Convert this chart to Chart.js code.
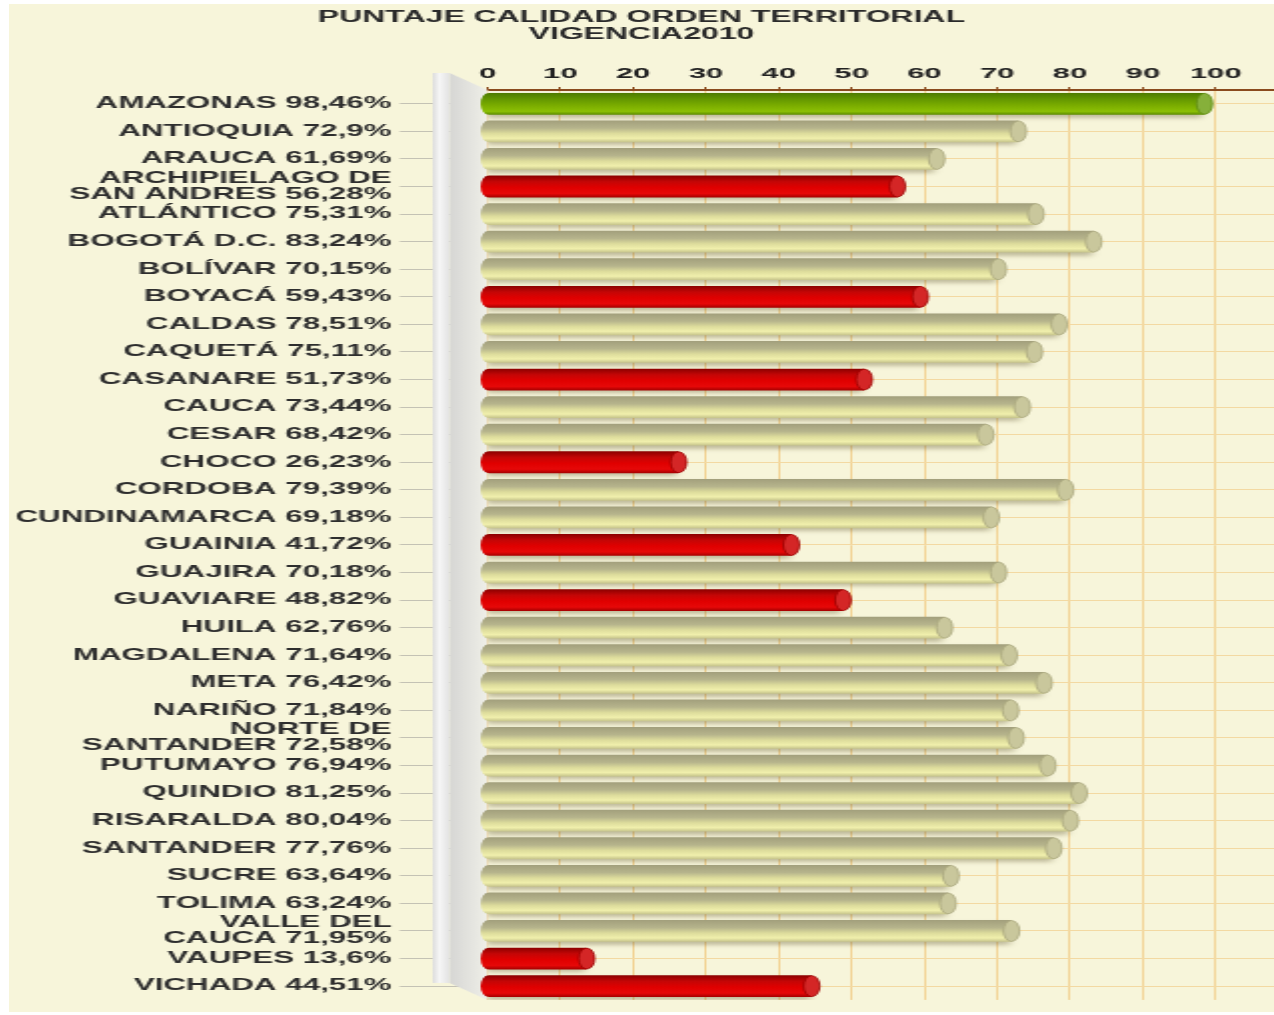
<!DOCTYPE html>
<html>
<head>
<meta charset="utf-8">
<script src="https://cdn.jsdelivr.net/npm/chart.js@4.4.1/dist/chart.umd.min.js"></script>
<style>
  html, body { margin: 0; padding: 0; background: #ffffff; }
</style>
</head>
<body>
<canvas id="c" width="633" height="1008" style="position:absolute; left:9px; top:4px; width:1265px; height:1008px; background:#f7f5da;"></canvas>
<script>
// ---- data ----
const titleLines = ['PUNTAJE CALIDAD ORDEN TERRITORIAL', 'VIGENCIA2010'];
const departments = [
  ['AMAZONAS'], ['ANTIOQUIA'], ['ARAUCA'], ['ARCHIPIELAGO DE', 'SAN ANDRES'], ['ATLÁNTICO'],
  ['BOGOTÁ D.C.'], ['BOLÍVAR'], ['BOYACÁ'], ['CALDAS'], ['CAQUETÁ'], ['CASANARE'], ['CAUCA'],
  ['CESAR'], ['CHOCO'], ['CORDOBA'], ['CUNDINAMARCA'], ['GUAINIA'], ['GUAJIRA'], ['GUAVIARE'],
  ['HUILA'], ['MAGDALENA'], ['META'], ['NARIÑO'], ['NORTE DE', 'SANTANDER'], ['PUTUMAYO'],
  ['QUINDIO'], ['RISARALDA'], ['SANTANDER'], ['SUCRE'], ['TOLIMA'], ['VALLE DEL', 'CAUCA'],
  ['VAUPES'], ['VICHADA']
];
const scores = [
  98.46, 72.9, 61.69, 56.28, 75.31, 83.24, 70.15, 59.43, 78.51, 75.11, 51.73, 73.44,
  68.42, 26.23, 79.39, 69.18, 41.72, 70.18, 48.82, 62.76, 71.64, 76.42, 71.84, 72.58,
  76.94, 81.25, 80.04, 77.76, 63.64, 63.24, 71.95, 13.6, 44.51
];
const xTicks = [0, 10, 20, 30, 40, 50, 60, 70, 80, 90, 100];
const xMax = 108;

// tick labels: name + value with comma decimal
const tickLabels = departments.map((lines, i) => {
  const v = String(scores[i]).replace('.', ',') + '%';
  const out = lines.slice(0, -1);
  out.push(lines[lines.length - 1] + ' ' + v);
  return out.length === 1 ? out[0] : out;
});

// ---- styling ----
const palette = {
  high: { stops: [[0, '#4c7a00'], [0.3, '#659800'], [0.6, '#7cae00'], [0.85, '#8bbf04'], [1, '#5c8c00']], cap: '#86b03a', capEdge: '#5d8a10' },
  mid:  { stops: [[0, '#a29f7c'], [0.35, '#b6b48c'], [0.6, '#dddc9c'], [0.82, '#f0efac'], [1, '#c4c28a']], cap: '#c9c79c', capEdge: '#a9a77e' },
  low:  { stops: [[0, '#8a0000'], [0.28, '#c40606'], [0.55, '#e00000'], [0.82, '#e60808'], [1, '#a40000']], cap: '#d42626', capEdge: '#9c0000' }
};
function tier(v) { return v >= 90 ? 'high' : (v < 60 ? 'low' : 'mid'); }
const BAR_PCT = 0.79;

function barFill(context) {
  const chart = context.chart;
  const p = palette[tier(scores[context.dataIndex])];
  const ys = chart.scales.y;
  if (!chart.chartArea || !ys) return p.stops[2][1];
  const y = ys.getPixelForValue(context.dataIndex);
  const half = (chart.chartArea.height / scores.length) * BAR_PCT / 2;
  const g = chart.ctx.createLinearGradient(0, y - half, 0, y + half);
  p.stops.forEach(s => g.addColorStop(s[0], s[1]));
  return g;
}

const FONT = "'Liberation Sans', Arial, sans-serif";

// back wall (decoration drawn from the chart area)
const wallPlugin = {
  id: 'wall',
  beforeDatasetsDraw(chart) {
    const { ctx, chartArea: a } = chart;
    const frontL = a.left - 27.5, frontR = a.left - 19, dy = 17;
    ctx.save();
    let g = ctx.createLinearGradient(frontR, 0, a.left, 0);
    g.addColorStop(0, '#d6d6d4');
    g.addColorStop(1, '#efefe8');
    ctx.fillStyle = g;
    ctx.beginPath();
    ctx.moveTo(frontR, a.top - dy);
    ctx.lineTo(a.left, a.top);
    ctx.lineTo(a.left, a.bottom);
    ctx.lineTo(frontR, a.bottom - dy);
    ctx.closePath();
    ctx.fill();
    g = ctx.createLinearGradient(frontL, 0, frontR, 0);
    g.addColorStop(0, '#dcdcdc');
    g.addColorStop(0.4, '#f6f6f6');
    g.addColorStop(1, '#e2e2e2');
    ctx.fillStyle = g;
    ctx.fillRect(frontL, a.top - dy, frontR - frontL, a.bottom - a.top);
    ctx.restore();
  },
  beforeDatasetDraw(chart) {
    const ctx = chart.ctx;
    ctx.save();
    ctx.shadowColor = 'rgba(90, 80, 40, 0.35)';
    ctx.shadowBlur = 4;
    ctx.shadowOffsetX = -1;
    ctx.shadowOffsetY = 3;
  },
  afterDatasetDraw(chart) {
    chart.ctx.restore();
  }
};

// cylinder end caps drawn on each bar element
const capPlugin = {
  id: 'caps',
  afterDatasetsDraw(chart) {
    const ctx = chart.ctx;
    const meta = chart.getDatasetMeta(0);
    meta.data.forEach((bar, i) => {
      const p = palette[tier(scores[i])];
      const ry = bar.height / 2;
      const rx = 4;
      ctx.save();
      ctx.fillStyle = bar.options.backgroundColor;
      ctx.beginPath();
      ctx.ellipse(bar.base, bar.y, rx, ry, 0, Math.PI / 2, Math.PI * 1.5);
      ctx.fill();
      ctx.beginPath();
      ctx.ellipse(bar.x, bar.y, rx, ry * 0.96, 0, 0, Math.PI * 2);
      ctx.fillStyle = p.cap;
      ctx.fill();
      ctx.lineWidth = 0.8;
      ctx.strokeStyle = p.capEdge;
      ctx.stroke();
      ctx.restore();
    });
  }
};

new Chart(document.getElementById('c'), {
  type: 'bar',
  data: {
    labels: tickLabels,
    datasets: [{
      data: scores,
      backgroundColor: barFill,
      borderWidth: 0,
      barPercentage: BAR_PCT,
      categoryPercentage: 1
    }]
  },
  options: {
    indexAxis: 'y',
    responsive: false,
    animation: false,
    layout: { padding: { left: 0, right: 0, top: 0, bottom: 7 } },
    plugins: {
      legend: { display: false },
      tooltip: { enabled: false },
      title: {
        display: true,
        text: titleLines,
        color: '#2a2a2a',
        font: { family: FONT, size: 16, weight: 'bold', lineHeight: 17 / 16 },
        padding: { top: 5.5, bottom: 10 }
      }
    },
    scales: {
      x: {
        position: 'top',
        min: 0,
        max: xMax,
        afterBuildTicks(scale) { scale.ticks = xTicks.map(v => ({ value: v })); },
        afterFit(scale) { scale.height = 36.5; },
        ticks: {
          includeBounds: false,
          padding: 4,
          color: '#222222',
          font: { family: FONT, size: 15.5, weight: 'bold' }
        },
        grid: {
          color: '#f2d394',
          lineWidth: 1,
          tickLength: 3,
          tickColor: '#8a4a1c'
        },
        border: { display: true, color: '#8a4a1e', width: 2 }
      },
      y: {
        afterFit(scale) { scale.width = 239.5; },
        ticks: {
          padding: 4,
          color: '#2e2e2e',
          autoSkip: false,
          font: { family: FONT, size: 15.7, weight: 'bold', lineHeight: 1.03 }
        },
        grid: {
          offset: false,
          color: '#f3d9a2',
          lineWidth: 1,
          tickLength: 44,
          tickColor: '#c4c2b4'
        },
        border: { display: false }
      }
    }
  },
  plugins: [wallPlugin, capPlugin]
});
</script>
</body>
</html>
